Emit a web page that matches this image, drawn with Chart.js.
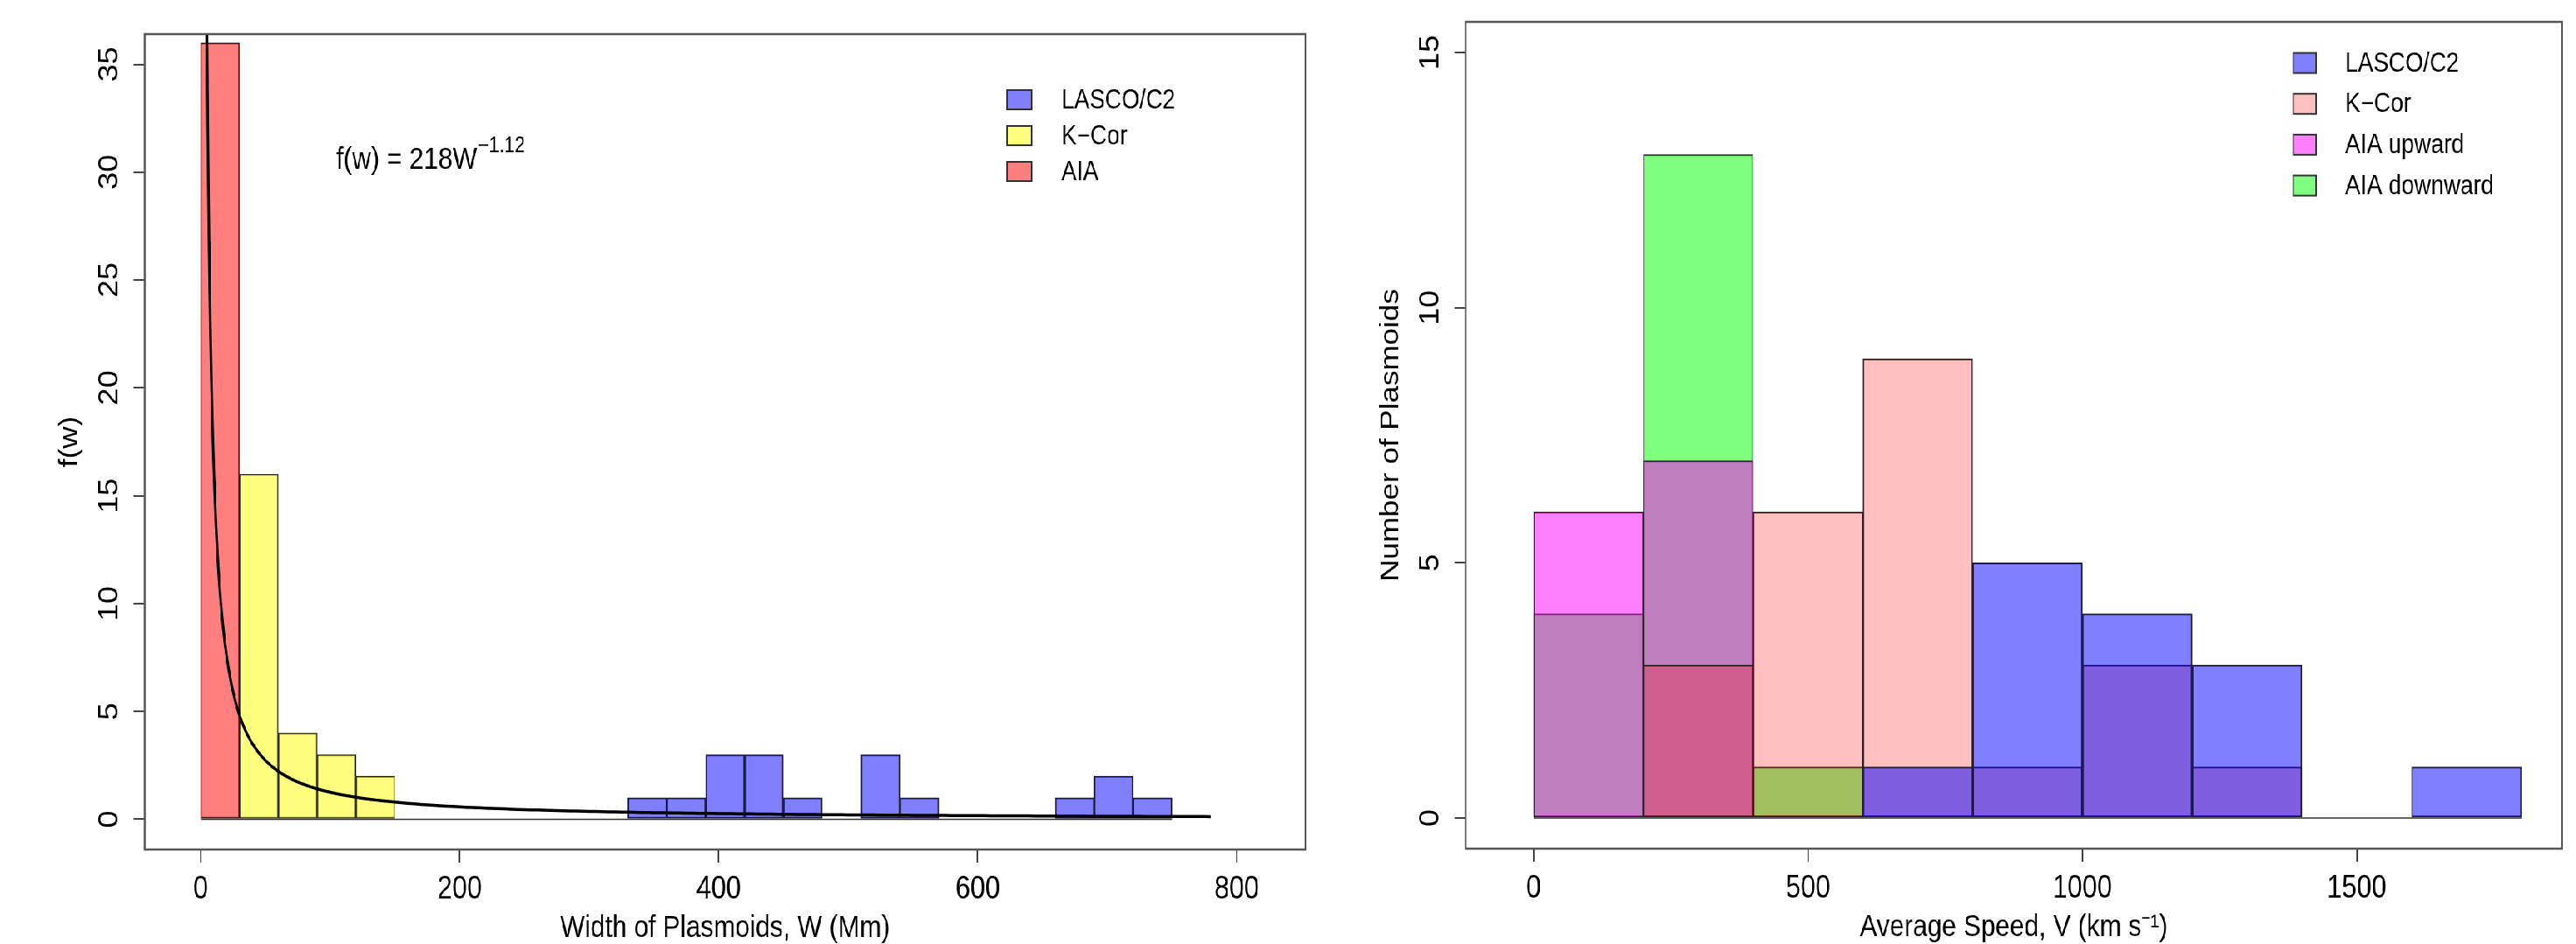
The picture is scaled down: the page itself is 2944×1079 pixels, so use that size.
<!DOCTYPE html>
<html>
<head>
<meta charset="utf-8">
<script src="https://cdn.jsdelivr.net/npm/chart.js@4.4.0/dist/chart.umd.min.js"></script>
<style>
  html, body { margin: 0; padding: 0; background: #fff; overflow: hidden; }
  /* the reference is squeezed sideways, so the drawing is too */
  #wrap { position: absolute; left: 0; top: 0; width: 3464px; height: 1079px;
          transform: scaleX(0.85); transform-origin: 0 0; }
  #left { position: absolute; left: 0; top: 0; }
  #right { position: absolute; left: 1776px; top: 0; }
</style>
</head>
<body>
<div id="wrap">
  <canvas id="left" width="1776" height="1079"></canvas>
  <canvas id="right" width="1688" height="1079"></canvas>
</div>
<script>
// ---- left panel: widths (Mm), bins of 30 ----
var widthBin = 30;
var aiaWidthStart = 0;
var aiaWidth = [36];
var kcorWidthStart = 30;
var kcorWidth = [16, 4, 3, 2];
var lascoWidthStart = 330;
var lascoWidth = [1, 1, 3, 3, 1, 0, 3, 1, 0, 0, 0, 1, 2, 1];
var widthXTicks = [0, 200, 400, 600, 800];
var widthYTicks = [0, 5, 10, 15, 20, 25, 30, 35];
// fit printed on the chart: f(w) = 218 W^-1.12, drawn up to W = 780
var fitA = 218;
var fitB = -1.12;
var fitEnd = 780;

// ---- right panel: speeds (km/s), bins of 200 ----
var speedBin = 200;
var lascoSpeedStart = 600;
var lascoSpeed = [1, 5, 4, 3, 0, 1];
var kcorSpeedStart = 0;
var kcorSpeed = [0, 3, 6, 9, 1, 3, 1];
var aiaUpStart = 0;
var aiaUp = [6, 7];
var aiaDownStart = 0;
var aiaDown = [4, 13, 1];
var speedXTicks = [0, 500, 1000, 1500];
var speedYTicks = [0, 5, 10, 15];

var FONT = "'Liberation Sans', Arial, Helvetica, sans-serif";
Chart.defaults.font.family = FONT;
Chart.defaults.color = '#000';

function hist(start, size, counts) {
  return counts.map(function (c, i) { return { x: start + size * (i + 0.5), y: c }; });
}

// zero line under all bins, like R draws for empty bins
function baseline(starts, counts, size) {
  var lo = Infinity, hi = -Infinity;
  starts.forEach(function (s, i) {
    lo = Math.min(lo, s);
    hi = Math.max(hi, s + size * counts[i].length);
  });
  return [{ x: lo, y: 0 }, { x: hi, y: 0 }];
}

var fitW = [];
for (var w = 4; w < 40; w += 0.5) fitW.push(w);
for (w = 40; w <= fitEnd; w += 5) fitW.push(w);
var fitPoints = fitW.map(function (v) { return { x: v, y: fitA * Math.pow(v, fitB) }; });

var barStyle = {
  borderColor: '#222',
  borderWidth: 1.3,
  borderSkipped: false,
  barPercentage: 1,
  categoryPercentage: 1,
  grouped: false
};

function bar(label, data, color) {
  return Object.assign({ label: label, data: data, backgroundColor: color }, barStyle);
}

function axisX(min, max, ticks, title, h) {
  return {
    type: 'linear', min: min, max: max, offset: false,
    afterBuildTicks: function (s) { s.ticks = ticks.map(function (v) { return { value: v }; }); },
    afterFit: function (s) { s.height = h; },
    grid: { drawOnChartArea: false, drawTicks: true, tickLength: 15, color: '#444', lineWidth: 2, offset: false },
    border: { display: false },
    ticks: { autoSkip: false, maxRotation: 0, minRotation: 0, padding: 9, font: { size: 36 }, color: '#000',
             callback: function (v) { return String(v); } },
    title: { display: true, text: title, font: { size: 35, lineHeight: 1 }, padding: { top: 0, bottom: 0 }, color: '#000' }
  };
}

function axisY(min, max, ticks, title) {
  return {
    type: 'linear', min: min, max: max,
    afterBuildTicks: function (s) { s.ticks = ticks.map(function (v) { return { value: v }; }); },
    afterFit: function (s) { s.width = 194.5; },
    grid: { drawOnChartArea: false, drawTicks: true, tickLength: 15, color: '#444', lineWidth: 2 },
    border: { display: false },
    ticks: { display: false },
    title: { display: true, text: title, font: { size: 35, lineHeight: 1 }, padding: { top: 77, bottom: 0 }, color: '#000' }
  };
}

// frame, rotated y labels (R style), legend and note
var framePlugin = {
  id: 'frame',
  afterDraw: function (chart, args, opts) {
    var ctx = chart.ctx, a = chart.chartArea, ys = chart.scales.y;
    ctx.save();
    ctx.strokeStyle = '#555';
    ctx.lineWidth = 2.5;
    ctx.strokeRect(a.left, a.top, a.right - a.left, a.bottom - a.top);

    ctx.fillStyle = '#000';
    ctx.font = '36px ' + FONT;
    ctx.textAlign = 'center';
    ctx.textBaseline = 'middle';
    ys.ticks.forEach(function (t) {
      ctx.save();
      ctx.translate(a.left - 46, ys.getPixelForValue(t.value));
      ctx.rotate(-Math.PI / 2);
      ctx.fillText(String(t.value), 0, 0);
      ctx.restore();
    });

    var lg = opts.legend;
    ctx.font = '31px ' + FONT;
    ctx.textAlign = 'left';
    chart.data.datasets.forEach(function (ds, i) {
      if (ds.type === 'line') return;
      var cy = lg.y + i * lg.gap;
      ctx.fillStyle = ds.backgroundColor;
      ctx.fillRect(lg.x, cy - lg.h / 2, lg.w, lg.h);
      ctx.strokeStyle = '#333';
      ctx.lineWidth = 2;
      ctx.strokeRect(lg.x, cy - lg.h / 2, lg.w, lg.h);
      ctx.fillStyle = '#000';
      ctx.fillText(ds.label, lg.textX, cy + 1);
    });

    if (opts.note) {
      var n = opts.note;
      ctx.textBaseline = 'alphabetic';
      ctx.font = '35px ' + FONT;
      ctx.fillText(n.text, n.x, n.y);
      var tw = ctx.measureText(n.text).width;
      ctx.font = '25px ' + FONT;
      ctx.fillText(n.sup, n.x + tw + 1, n.y - 19);
    }
    ctx.restore();
  }
};

new Chart(document.getElementById('left'), {
  type: 'bar',
  data: {
    datasets: [
      bar('LASCO/C2', hist(lascoWidthStart, widthBin, lascoWidth), 'rgba(0,0,255,0.5)'),
      bar('K\u2212Cor', hist(kcorWidthStart, widthBin, kcorWidth), 'rgba(255,255,0,0.5)'),
      bar('AIA', hist(aiaWidthStart, widthBin, aiaWidth), 'rgba(255,0,0,0.5)'),
      { type: 'line', label: 'fit', data: fitPoints, borderColor: '#000', borderWidth: 3.5,
        pointRadius: 0, order: -1 },
      { type: 'line', label: 'zero', data: baseline([aiaWidthStart, kcorWidthStart, lascoWidthStart],
          [aiaWidth, kcorWidth, lascoWidth], widthBin),
        borderColor: '#333', borderWidth: 1.5, pointRadius: 0, order: 5 }
    ]
  },
  options: {
    responsive: false,
    animation: false,
    events: [],
    layout: { padding: { left: 0, top: 39, right: 20.7, bottom: 0 } },
    scales: {
      x: axisX(-43.2, 853.2, widthXTicks, 'Width of Plasmoids, W (Mm)', 108),
      y: axisY(-1.4, 36.4, widthYTicks, 'f(w)')
    },
    plugins: {
      legend: { display: false },
      tooltip: { enabled: false },
      frame: {
        legend: { x: 1354, y: 114, gap: 41, w: 33, h: 22, textX: 1427 },
        note: { text: 'f(w) = 218W', sup: '\u22121.12', x: 452, y: 193 }
      }
    }
  },
  plugins: [framePlugin]
});

new Chart(document.getElementById('right'), {
  type: 'bar',
  data: {
    datasets: [
      bar('LASCO/C2', hist(lascoSpeedStart, speedBin, lascoSpeed), 'rgba(0,0,255,0.5)'),
      bar('K\u2212Cor', hist(kcorSpeedStart, speedBin, kcorSpeed), 'rgba(255,0,0,0.25)'),
      bar('AIA upward', hist(aiaUpStart, speedBin, aiaUp), 'rgba(255,0,255,0.5)'),
      bar('AIA downward', hist(aiaDownStart, speedBin, aiaDown), 'rgba(0,255,0,0.5)'),
      { type: 'line', label: 'zero', data: baseline([lascoSpeedStart, kcorSpeedStart, aiaUpStart, aiaDownStart],
          [lascoSpeed, kcorSpeed, aiaUp, aiaDown], speedBin),
        borderColor: '#333', borderWidth: 1.5, pointRadius: 0, order: 5 }
    ]
  },
  options: {
    responsive: false,
    animation: false,
    events: [],
    layout: { padding: { left: 0, top: 25, right: 19.3, bottom: 1 } },
    scales: {
      x: axisX(-124, 1874, speedXTicks, 'Average Speed, V (km s\u207B\u00B9)', 108),
      y: axisY(-0.6, 15.6, speedYTicks, 'Number of Plasmoids')
    },
    plugins: {
      legend: { display: false },
      tooltip: { enabled: false },
      frame: {
        legend: { x: 1307.5, y: 72, gap: 46.7, w: 30.5, h: 23, textX: 1377 }
      }
    }
  },
  plugins: [framePlugin]
});
</script>
</body>
</html>
